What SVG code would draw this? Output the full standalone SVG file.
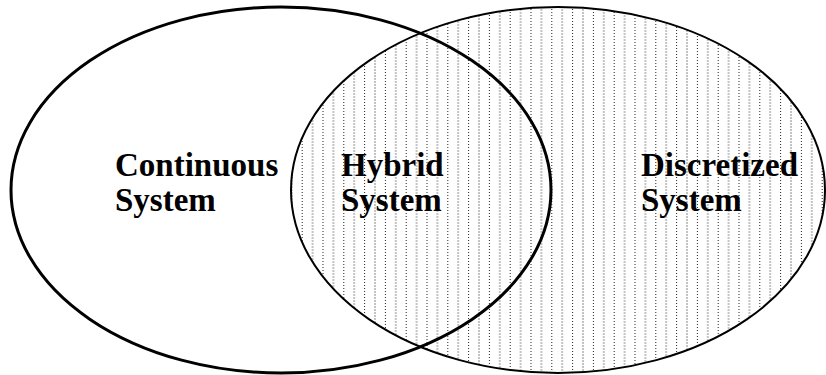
<svg xmlns="http://www.w3.org/2000/svg" width="826" height="375" viewBox="0 0 826 375">
<style>
.lbl{font-family:"Liberation Serif","Times New Roman",serif;font-weight:bold;font-size:33px;fill:#000}
</style>
<defs>
<pattern id="hatch" patternUnits="userSpaceOnUse" x="301.7" y="0" width="20.8" height="6">
<line x1="0.5" y1="0" x2="0.5" y2="6" stroke="#222" stroke-width="1" stroke-dasharray="1 2"/>
<line x1="10.9" y1="0" x2="10.9" y2="6" stroke="#888" stroke-width="1" stroke-dasharray="2 1"/>
</pattern>
</defs>
<rect width="826" height="375" fill="#fff"/>
<g id="discretized">
<ellipse cx="558" cy="190" rx="267" ry="183" fill="url(#hatch)" stroke="#000" stroke-width="2"/>
</g>
<g id="continuous">
<ellipse cx="281" cy="190" rx="270" ry="183" fill="none" stroke="#000" stroke-width="3"/>
</g>
<g id="labels">
<text class="lbl" x="115" y="176">Continuous</text>
<text class="lbl" x="115" y="211">System</text>
<text class="lbl" x="341" y="176">Hybrid</text>
<text class="lbl" x="341" y="211">System</text>
<text class="lbl" x="641" y="176">Discretized</text>
<text class="lbl" x="641" y="211">System</text>
</g>
</svg>
